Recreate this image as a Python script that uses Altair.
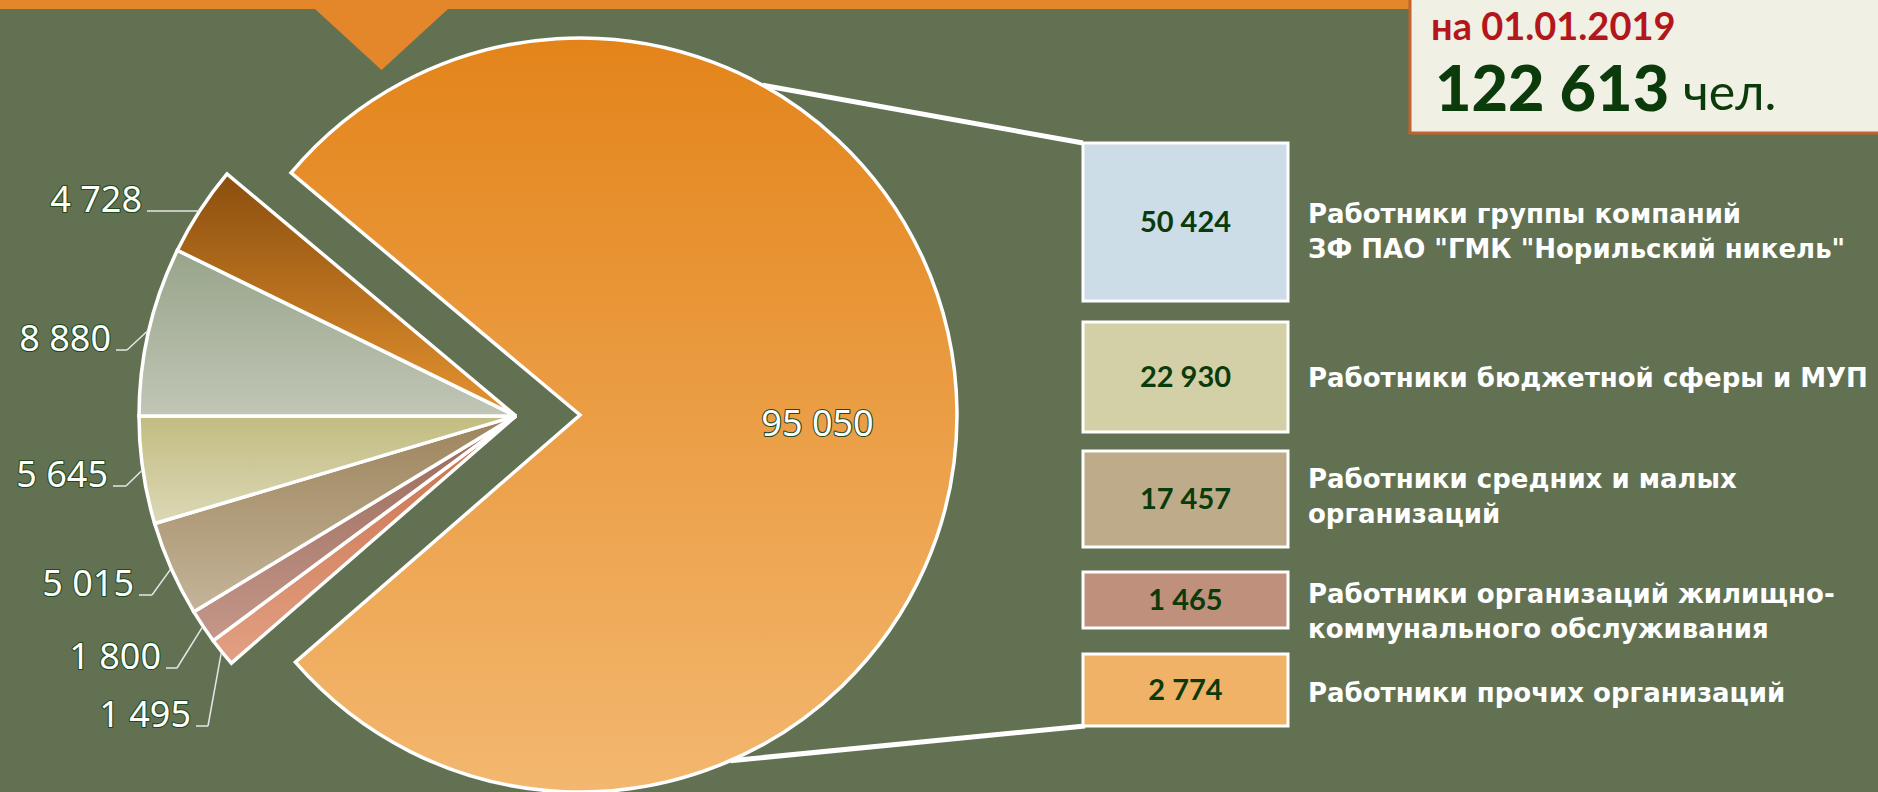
import math
import altair as alt
import pandas as pd

# ---------------- data ----------------
slice_labels = ["1 495", "1 800", "5 015", "5 645", "8 880", "4 728", "95 050"]
slice_values = [1495, 1800, 5015, 5645, 8880, 4728, 95050]

legend_values = ["50 424", "22 930", "17 457", "1 465", "2 774"]
legend_lines = [
    ["Работники группы компаний", "ЗФ ПАО \"ГМК \"Норильский никель\""],
    ["Работники бюджетной сферы и МУП"],
    ["Работники средних и малых", "организаций"],
    ["Работники организаций жилищно-", "коммунального обслуживания"],
    ["Работники прочих организаций"],
]
total_date = "на 01.01.2019"
total_value = "122 613"
total_unit = "чел."

# ---------------- styles / layout ----------------
W, H = 1878, 792
BG = "#637153"
WHITE = "#FFFFFF"
DARK_GREEN = "#0B3A0B"
OUTLINE = "#1F4A1F"

slice_top = ["#C8704A", "#98695A", "#9C845C", "#C2BC80", "#97A48A", "#8A4E0E", "#E3841A"]
slice_bot = ["#E2A083", "#C4978A", "#C4B498", "#DCD8B6", "#C1C6B6", "#E6932F", "#F3B76F"]
legend_fill = ["#CCDDE8", "#D3D0A7", "#BEAB8A", "#BF917C", "#F0B266"]

R = 377
BIG_C = (580, 415)
SMALL_C = (516, 416)
START_DEG = 229.03

# label elbows / ends for the six small slices (in slice order)
elbow_x = [208, 177, 152, 126, 127, 199]
elbow_y = [726, 668, 595, 486, 350, 211]
end_x = [196, 166, 139, 113, 116, 147]

box_x0, box_x1 = 1083, 1288
box_top = [143, 322, 451, 572, 654]
box_bot = [301, 432, 547, 628, 726]
text_center = [230, 377, 495, 610, 692]
LEG_TEXT_X = 1308

LABEL_FONT = "Noto Sans"

# ---------------- tables ----------------
pie_df = pd.DataFrame({
    "order": list(range(len(slice_values))),
    "label": slice_labels,
    "value": slice_values,
    "cx": [SMALL_C[0]] * 6 + [BIG_C[0]],
    "cy": [SMALL_C[1]] * 6 + [BIG_C[1]],
    "ex": elbow_x + [None],
    "ey": elbow_y + [None],
    "tx": end_x + [None],
})

start_rad = math.radians(START_DEG)
base = (
    alt.Chart(pie_df)
    .transform_joinaggregate(total="sum(value)")
    .transform_window(cum="sum(value)", sort=[alt.SortField("order")], frame=[None, 0])
    .transform_calculate(
        t1=f"{start_rad} + 2*PI*datum.cum/datum.total",
        t0=f"{start_rad} + 2*PI*(datum.cum - datum.value)/datum.total",
    )
    .transform_calculate(mid="(datum.t0 + datum.t1)/2")
    .transform_calculate(
        px=f"datum.cx + {R + 1}*sin(datum.mid)",
        py=f"datum.cy - {R + 1}*cos(datum.mid)",
        lx=f"datum.cx + {0.63 * R}*sin(datum.mid)",
        ly=f"datum.cy - {0.63 * R}*cos(datum.mid)",
    )
)

layers = []

# top orange band and notch
band_df = pd.DataFrame({"x": [0], "x2": [W], "y": [0], "y2": [9]})
layers.append(
    alt.Chart(band_df).mark_rect(fill="#E4872A").encode(
        x=alt.X("x:Q", scale=None, axis=None), x2="x2:Q",
        y=alt.Y("y:Q", scale=None, axis=None), y2="y2:Q",
    )
)
notch_df = pd.DataFrame({"x": [381.5], "y": [35]})
layers.append(
    alt.Chart(notch_df).mark_point(
        shape="M -1 -0.4587 L 1 -0.4587 L 0 0.4587 Z", size=152.6 ** 2,
        filled=True, fill="#E4872A", opacity=1, strokeWidth=0,
    ).encode(x=alt.X("x:Q", scale=None, axis=None), y=alt.Y("y:Q", scale=None, axis=None))
)

# connector lines from big slice to legend boxes
a_top, a_bot = math.radians(29), math.radians(156.5)
conn_df = pd.DataFrame({
    "x": [BIG_C[0] + R * math.sin(a_top), BIG_C[0] + R * math.sin(a_bot)],
    "y": [BIG_C[1] - R * math.cos(a_top), BIG_C[1] - R * math.cos(a_bot)],
    "x2": [box_x0, box_x0 + 2],
    "y2": [box_top[0], box_bot[-1]],
})
layers.append(
    alt.Chart(conn_df).mark_rule(color=WHITE, strokeWidth=5).encode(
        x=alt.X("x:Q", scale=None, axis=None), x2="x2:Q",
        y=alt.Y("y:Q", scale=None, axis=None), y2="y2:Q",
    )
)

# pie slices
for i in range(len(slice_values)):
    grad = alt.LinearGradient(
        gradient="linear",
        stops=[alt.GradientStop(color=slice_top[i], offset=0),
               alt.GradientStop(color=slice_bot[i], offset=1)],
        x1=0, x2=0, y1=0, y2=1,
    )
    cx, cy = (BIG_C if i == len(slice_values) - 1 else SMALL_C)
    layers.append(
        base.transform_filter(f"datum.order == {i}")
        .mark_arc(fill=grad, stroke=WHITE, strokeWidth=3.5, radius=R)
        .encode(
            theta=alt.Theta("t0:Q", scale=None, stack=None),
            theta2="t1:Q",
            x=alt.value(cx), y=alt.value(cy),
        )
    )

# leader lines
small = base.transform_filter("datum.order < 6")
layers.append(
    small.mark_rule(color="#E6E6E6", strokeWidth=1.5).encode(
        x=alt.X("px:Q", scale=None, axis=None), x2="ex:Q",
        y=alt.Y("py:Q", scale=None, axis=None), y2="ey:Q",
    )
)
layers.append(
    small.mark_rule(color="#E6E6E6", strokeWidth=1.5).encode(
        x=alt.X("ex:Q", scale=None, axis=None), x2="tx:Q",
        y=alt.Y("ey:Q", scale=None, axis=None),
    )
)

# slice value labels: dark outline underneath, white glyphs on top
small_lbl = small.transform_calculate(tx2="datum.tx - 5", ty2="datum.ey + 1")
big_lbl = base.transform_filter("datum.order == 6")
for fill, stroke, sw in [(OUTLINE, OUTLINE, 2.2), (WHITE, None, 0)]:
    kw = dict(fill=fill, font=LABEL_FONT, fontSize=36)
    if stroke:
        kw.update(stroke=stroke, strokeWidth=sw, strokeJoin="round")
    layers.append(
        small_lbl.mark_text(align="right", baseline="alphabetic", **kw)
        .encode(x=alt.X("tx2:Q", scale=None, axis=None),
                y=alt.Y("ty2:Q", scale=None, axis=None), text="label:N")
    )
    layers.append(
        big_lbl.mark_text(align="center", baseline="middle", dy=12, **kw)
        .encode(x=alt.X("lx:Q", scale=None, axis=None),
                y=alt.Y("ly:Q", scale=None, axis=None), text="label:N")
    )

# legend boxes
leg_df = pd.DataFrame({
    "value": legend_values, "fill": legend_fill,
    "x": [box_x0] * 5, "x2": [box_x1] * 5, "y": box_top, "y2": box_bot,
})
leg_df["xc"] = (leg_df["x"] + leg_df["x2"]) / 2
leg_df["yb"] = (leg_df["y"] + leg_df["y2"]) / 2 + 10
layers.append(
    alt.Chart(leg_df).mark_rect(stroke=WHITE, strokeWidth=3).encode(
        x=alt.X("x:Q", scale=None, axis=None), x2="x2:Q",
        y=alt.Y("y:Q", scale=None, axis=None), y2="y2:Q",
        fill=alt.Fill("fill:N", scale=None),
    )
)
layers.append(
    alt.Chart(leg_df).mark_text(align="center", baseline="alphabetic", font="Lato",
                                fontWeight="bold", fontSize=29, fill=DARK_GREEN).encode(
        x=alt.X("xc:Q", scale=None, axis=None),
        y=alt.Y("yb:Q", scale=None, axis=None), text="value:N",
    )
)

rows = []
for i, lines in enumerate(legend_lines):
    n = len(lines)
    for j, t in enumerate(lines):
        rows.append({"t": t, "x": LEG_TEXT_X, "y": text_center[i] + 10 + (j - (n - 1) / 2) * 35})
legtxt_df = pd.DataFrame(rows)
layers.append(
    alt.Chart(legtxt_df).mark_text(align="left", baseline="alphabetic", font="DejaVu Sans",
                                   fontWeight="bold", fontSize=26, fill=WHITE).encode(
        x=alt.X("x:Q", scale=None, axis=None),
        y=alt.Y("y:Q", scale=None, axis=None), text="t:N",
    )
)

# top-right total box
tb_df = pd.DataFrame({"x": [1410], "x2": [W + 10], "y": [-10], "y2": [133]})
layers.append(
    alt.Chart(tb_df).mark_rect(fill="#F1F0E4", stroke="#C4622D", strokeWidth=3).encode(
        x=alt.X("x:Q", scale=None, axis=None), x2="x2:Q",
        y=alt.Y("y:Q", scale=None, axis=None), y2="y2:Q",
    )
)
tt_df = pd.DataFrame({
    "t": [total_date, total_value, total_unit],
    "x": [1431, 1435, 1683],
    "y": [40, 111, 110],
    "size": [38, 63, 50],
    "weight": ["bold", "900", "normal"],
    "color": ["#B3161B", DARK_GREEN, DARK_GREEN],
})
for k in range(3):
    w = tt_df["weight"][k]
    layers.append(
        alt.Chart(tt_df.iloc[[k]]).mark_text(
            align="left", baseline="alphabetic", font="Lato",
            fontWeight=int(w) if w.isdigit() else w, fontSize=int(tt_df["size"][k]),
        ).encode(
            x=alt.X("x:Q", scale=None, axis=None),
            y=alt.Y("y:Q", scale=None, axis=None), text="t:N",
            color=alt.Color("color:N", scale=None),
        )
    )

chart = alt.layer(*layers).properties(
    width=W, height=H, background=BG, padding=0,
    autosize=alt.AutoSizeParams(type="none"),
).configure_view(stroke=None)

chart.save("out.html", embed_options={"renderer": "svg", "actions": False})
